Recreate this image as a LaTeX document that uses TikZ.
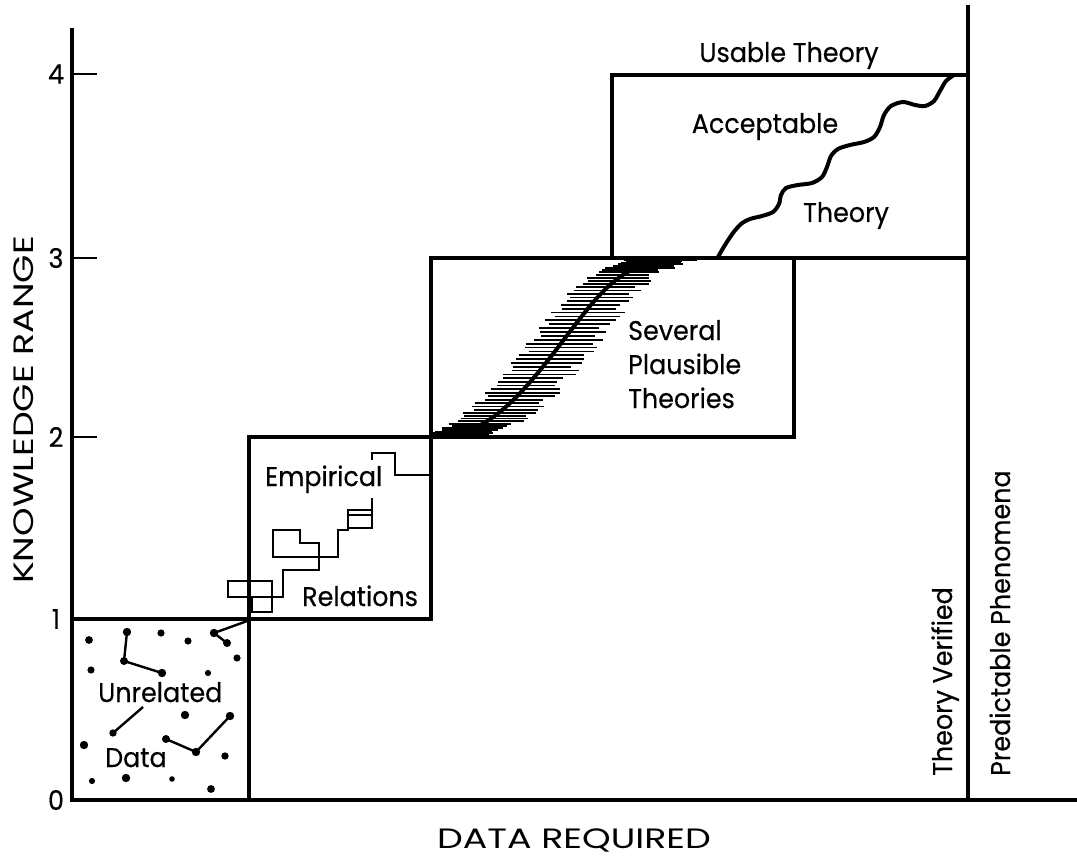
\documentclass[tikz,border=0pt]{standalone}
\usepackage{fontspec}
\setmainfont{Poppins}[FakeStretch=0.94, FakeBold=0.4]
\newfontfamily\capsfont{Poppins}[FakeStretch=1.3]
\usetikzlibrary{decorations.markings}
\begin{document}
\begin{tikzpicture}[x=1pt,y=-1pt,
  frame/.style={line width=3.2pt},
  axisline/.style={line width=4.8pt},
  tickline/.style={line width=2pt},
  lbl/.style={inner sep=0pt, font=\fontsize{27}{32}\selectfont},
  title/.style={inner sep=0pt, font=\fontsize{28}{32}\selectfont\capsfont},
  stair/.style={line width=2.6pt, line join=miter},
  link/.style={line width=2.4pt},
  wave/.style={line width=4pt, line cap=round},
  spine/.style={line width=4pt},
  hatch/.style={line width=1.7pt},
]
\useasboundingbox (0,0) rectangle (1077,861);
\pgfmathsetseed{7}

% axes
\coordinate (O) at (72,800);
\coordinate (ytop) at (72,28);
\coordinate (xend) at (1077,800);
\draw[axisline] (ytop) -- (O) -- (xend);
\foreach \y in {74,258,437} \draw[tickline] (72,\y) -- (97,\y);

% tick labels
\node[lbl] (t4) at (56,74) {4};
\node[lbl] (t3) at (56,258) {3};
\node[lbl] (t2) at (56,437) {2};
\node[lbl] (t1) at (56,619) {1};
\node[lbl] (t0) at (56,800) {0};

% axis titles
\node[title, rotate=90] (ytitle) at (24,410) {KNOWLEDGE RANGE};
\node[title] (xtitle) at (574,840) {DATA REQUIRED};

% stage boxes
\draw[frame] (72,619) rectangle (249,800);
\draw[frame] (249,437) rectangle (431,619);
\draw[frame] (431,258) rectangle (794,437);
\draw[frame] (612,75) rectangle (968,258);
\draw[line width=3.2pt] (968,5) -- (968,800);

% scattered data points
\foreach \px/\py/\r in {89/640/3.9, 127/632/4.2, 124/661/4, 162/673/4.2,
  161/633/3.6, 188/641/3.6, 214/633/4.2, 227/643/4, 237/658/3.6,
  91/670/3.6, 208/673/3.1, 113/733/3.7, 185/715/4.2, 230/716/4.2,
  196/752/4.2, 166/739/4, 84/745/4.2, 225/756/3.7, 92/781/3.1,
  126/778/4.2, 172/779/2.8, 211/789/3.9}
  \fill (\px,\py) circle[radius=\r];
\draw[link] (127,632) -- (124,661) -- (162,673);
\draw[link] (250,620) -- (214,633) -- (227,643);
\draw[link] (143,707) -- (113,733);
\draw[link] (166,739) -- (196,752) -- (230,716);

\node[lbl, anchor=base west] (unrel) at (98,702) {Unrelated};
\node[lbl, anchor=base west] (data) at (105,767) {Data};

% empirical staircase
\draw[stair] (228,581) rectangle (272,597);
\draw[stair] (252,597) rectangle (272,612);
\draw[stair] (272,597) -- (283,597) -- (283,570) -- (319,570) -- (319,543)
  -- (300,543) -- (300,530) -- (273,530) -- (273,557) -- (338,557)
  -- (338,530) -- (348,530) -- (348,510) -- (372,510) -- (372,498);
\draw[stair] (372,510) -- (372,528) -- (348,528);
\draw[line width=1.6pt] (348,515) -- (372,515);
\draw[stair] (372,460) -- (372,453) -- (395,453) -- (395,475) -- (431,475);

\node[lbl, anchor=base west] (emp) at (265,486) {Empirical};
\node[lbl, anchor=base west] (rel) at (302,606) {Relations};

% hatched band of plausible theories
\begin{scope}
  \clip (431,258) rectangle (794,437);
  \path[postaction={decorate}, decoration={markings,
      mark=between positions 0 and 1 step 4.9pt with {
        \pgftransformresetnontranslations
        \pgfmathsetmacro\hl{26+10*rnd}
        \pgfmathsetmacro\hr{26+14*rnd}
        \draw[hatch] (-\hl pt,0pt) -- (\hr pt,0pt);}}]
    (431,437) .. controls (480,437) and (510,410) .. (556,350)
    .. controls (602,290) and (620,258) .. (690,258);
  \draw[spine] (431,437) .. controls (480,437) and (510,410) .. (556,350)
    .. controls (602,290) and (620,258) .. (690,258);
\end{scope}

\node[lbl, anchor=base west] (sev1) at (628,340) {Several};
\node[lbl, anchor=base west] (sev2) at (628,374) {Plausible};
\node[lbl, anchor=base west] (sev3) at (628,408) {Theories};

% acceptable theory
\draw[wave] plot[smooth, tension=0.5] coordinates {
  (718,257) (725,245) (733,233) (741,224) (750,219) (762,216) (773,212)
  (779,204) (781,195) (786,188) (798,185) (812,183) (822,177) (827,167)
  (831,156) (838,149) (850,145) (864,142) (874,137) (880,127) (884,115)
  (891,106) (903,102) (915,105) (925,106) (934,101) (940,91) (946,81)
  (954,75)};

\node[lbl, anchor=base] (usable) at (789,62) {Usable Theory};
\node[lbl, anchor=base] (accept) at (765,133) {Acceptable};
\node[lbl, anchor=base] (theory) at (846,222) {Theory};

\node[lbl, rotate=90, anchor=base west] (verified) at (952,776) {Theory Verified};
\node[lbl, rotate=90, anchor=base west] (predict) at (1010,776) {Predictable Phenomena};
\end{tikzpicture}
\end{document}
